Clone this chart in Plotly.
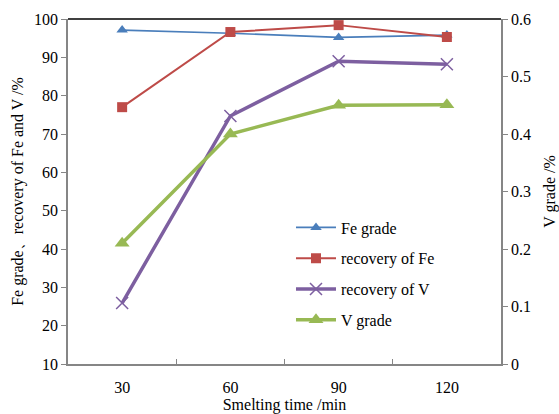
import plotly.graph_objects as go

times = ["30", "60", "90", "120"]
fe_grade = [97.1, 96.3, 95.2, 95.8]
fe_recovery = [77.0, 96.6, 98.4, 95.3]
v_recovery = [25.9, 74.7, 89.0, 88.2]
v_grade = [0.21, 0.40, 0.45, 0.451]

font = "Liberation Serif, Times New Roman, serif"

fig = go.Figure()
fig.add_trace(go.Scatter(x=times, y=fe_grade, name="Fe grade", mode="lines+markers",
                         line=dict(color="#4a7ebb", width=1.6),
                         marker=dict(symbol="triangle-up", size=10, color="#4a7ebb"),
                         legendgroup="a"))
fig.add_trace(go.Scatter(x=times, y=fe_recovery, name="recovery of Fe", mode="lines+markers",
                         line=dict(color="#be4b48", width=2),
                         marker=dict(symbol="square", size=10, color="#be4b48"),
                         legendgroup="b"))
fig.add_trace(go.Scatter(x=times, y=v_recovery, name="recovery of V", mode="lines+markers",
                         line=dict(color="#7d5fa0", width=3.5),
                         marker=dict(symbol="x-thin-open", size=12, color="#7d5fa0",
                                     line=dict(width=1.5, color="#7d5fa0")),
                         legendgroup="c"))
fig.add_trace(go.Scatter(x=times, y=v_grade, name="V grade", mode="lines+markers",
                         line=dict(color="#98b954", width=3.5),
                         marker=dict(symbol="triangle-up", size=13, color="#98b954"),
                         yaxis="y2", legendgroup="d"))

fig.update_layout(
    width=559, height=414,
    margin=dict(l=68, r=58, t=19, b=50),
    paper_bgcolor="white", plot_bgcolor="white",
    font=dict(family=font, size=16, color="black"),
    showlegend=True,
    legend=dict(x=0.515, y=0.445, xanchor="left", yanchor="top",
                bgcolor="rgba(0,0,0,0)", font=dict(size=16, family=font),
                tracegroupgap=7, itemwidth=40),
    xaxis=dict(type="category", range=[-0.5, 3.5], showgrid=False, showline=True,
               linecolor="#868686", linewidth=1.5, ticks="inside", tickson="boundaries",
               ticklen=5, tickcolor="#868686", automargin=False, ticklabelstandoff=8,
               title=dict(text="Smelting time /min", font=dict(size=16, family=font), standoff=0)),
    yaxis=dict(range=[10, 100], dtick=10, showgrid=False, showline=True,
               linecolor="#868686", linewidth=1.5, ticks="outside", ticklen=5,
               tickcolor="#868686", zeroline=False, automargin=False,
               title=dict(text="Fe grade、recovery of Fe and V /%", font=dict(size=16, family=font), standoff=6)),
    yaxis2=dict(range=[0, 0.6], dtick=0.1, overlaying="y", side="right", showgrid=False,
                showline=True, linecolor="#868686", linewidth=1.5, ticks="outside",
                ticklen=5, tickcolor="#868686", zeroline=False, automargin=False,
                title=dict(text="V grade /%", font=dict(size=16, family=font), standoff=14)),
    shapes=[dict(type="line", xref="paper", yref="paper", x0=0, x1=1, y0=1, y1=1,
                 line=dict(color="black", width=1.5))],
)

fig.write_html("out.html", config={"displayModeBar": False},
               post_script="document.body.style.margin='0';")
